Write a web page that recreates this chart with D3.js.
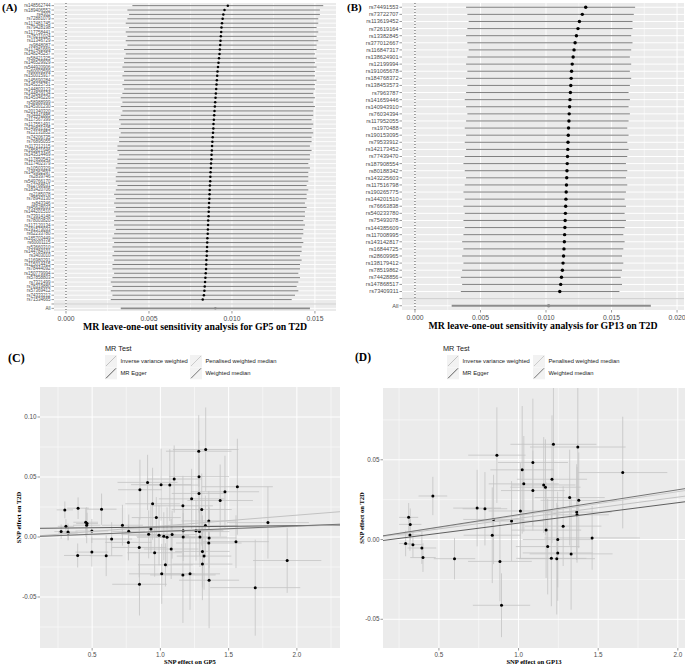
<!DOCTYPE html>
<html><head><meta charset="utf-8">
<script src="https://cdn.jsdelivr.net/npm/d3@7"></script>
<style>body{margin:0;background:#fff}</style>
</head><body>
<script>
// ---------- Panel A: leave-one-out GP5 ----------
const snpA = ["rs148562744","rs189406552","rs4302","rs72881079","rs117481745","rs79428198","rs117758441","rs78211024","rs11346729","rs9848087",
"rs117481669","rs148245257","rs58421325","rs146529929","rs544920906","rs60003599","rs150015917","rs145690284","rs145225751","rs144803123",
"rs144829134","rs145346226","rs58988999","rs145301230","rs201340320","rs34441885","rs117567399","rs117551491","rs149831325","rs12131852",
"rs74206735","rs76895055","rs117212115","rs185821946","rs143514469","rs117850543","rs117402379","rs10503329","rs146362597","rs2839746",
"rs549766170","rs12768631","rs183420706","rs2185078","rs78943130","rs843346","rs45628033","rs144201510","rs73914148","rs78003820",
"rs117120134","rs191573033","rs62233780","rs185703449","rs60001115","rs53660310","rs144784101","rs3403010","rs116980291","rs115014415",
"rs78444092","rs150779994","rs57858803","rs7321499","rs78319880","rs57369412","rs74333212","rs71534665"];
const bA = [0.00975,0.00955,0.00948,0.00944,0.00940,0.00937,0.00935,0.00933,0.00931,0.00929,
0.00927,0.00925,0.00922,0.00919,0.00916,0.00913,0.00911,0.00909,0.00907,0.00905,
0.00903,0.00901,0.00899,0.00897,0.00895,0.00893,0.00891,0.00889,0.00888,0.00886,
0.00884,0.00882,0.00880,0.00879,0.00877,0.00876,0.00874,0.00873,0.00871,0.00870,
0.00869,0.00867,0.00866,0.00865,0.00864,0.00862,0.00861,0.00860,0.00859,0.00857,
0.00856,0.00855,0.00854,0.00852,0.00851,0.00850,0.00849,0.00848,0.00846,0.00845,
0.00844,0.00842,0.00840,0.00838,0.00836,0.00834,0.00831,0.00824];
const loA = [0.0040,0.0037,0.0038,0.0037,0.0036,0.0038,0.0036,0.0037,0.0036,0.0037,
0.0035,0.0036,0.0035,0.0035,0.0034,0.0035,0.0034,0.0035,0.0034,0.0035,
0.0034,0.0033,0.0034,0.0033,0.0034,0.0033,0.0032,0.0033,0.0032,0.0033,
0.0032,0.0032,0.0031,0.0031,0.0032,0.0031,0.0031,0.0030,0.0031,0.0030,
0.0030,0.0031,0.0030,0.0029,0.0030,0.0029,0.0030,0.0029,0.0030,0.0029,
0.0029,0.0030,0.0029,0.0028,0.0029,0.0028,0.0029,0.0028,0.0029,0.0028,
0.0028,0.0029,0.0028,0.0027,0.0028,0.0027,0.0028,0.0027];
const hiA = [0.0155,0.0153,0.0153,0.0152,0.0152,0.0151,0.0152,0.0151,0.0152,0.0151,
0.0151,0.0150,0.0151,0.0150,0.0151,0.0150,0.0150,0.0151,0.0150,0.0150,
0.0149,0.0150,0.0149,0.0150,0.0149,0.0149,0.0148,0.0149,0.0148,0.0149,
0.0148,0.0148,0.0147,0.0148,0.0147,0.0147,0.0146,0.0147,0.0146,0.0146,
0.0146,0.0145,0.0146,0.0145,0.0145,0.0144,0.0145,0.0144,0.0144,0.0143,
0.0144,0.0143,0.0143,0.0142,0.0143,0.0142,0.0142,0.0141,0.0142,0.0141,
0.0141,0.0140,0.0141,0.0140,0.0139,0.0140,0.0138,0.0136];
const allA = {b:0.0090, lo:0.0033, hi:0.0147};
const ticksA = [0.000,0.005,0.010,0.015];
const tickLabA = ["0.000","0.005","0.010","0.015"];

// ---------- Panel B: leave-one-out GP13 ----------
const snpB = ["rs74491553","rs73722707","rs113619452","rs72619164","rs13382845","rs377012667","rs116847317","rs138624901","rs12199994","rs191065678",
"rs184768372","rs138453573","rs7963787","rs141659446","rs140943910","rs76034394","rs117952055","rs1970488","rs190153095","rs79533912",
"rs142173452","rs77439470","rs187908554","rs80188342","rs143225603","rs117516798","rs190265775","rs144201510","rs76663838","rs540233780",
"rs75493078","rs144385609","rs117008995","rs143142817","rs16844725","rs28609965","rs138179412","rs78519862","rs74428856","rs147868517","rs73409311"];
const bB = [0.01303,0.01277,0.01255,0.01244,0.01232,0.01222,0.01214,0.01207,0.01200,0.01195,
0.01192,0.01189,0.01186,0.01183,0.01180,0.01177,0.01175,0.01172,0.01170,0.01168,
0.01166,0.01164,0.01162,0.01160,0.01158,0.01156,0.01154,0.01152,0.01150,0.01148,
0.01146,0.01144,0.01142,0.01140,0.01137,0.01134,0.01130,0.01125,0.01118,0.01112,0.01105];
const loB = [0.0039,0.0040,0.0041,0.0040,0.0039,0.0040,0.0041,0.0040,0.0039,0.0040,
0.0039,0.0040,0.0039,0.0038,0.0039,0.0040,0.0039,0.0038,0.0039,0.0038,
0.0039,0.0038,0.0037,0.0038,0.0039,0.0038,0.0037,0.0038,0.0037,0.0038,
0.0037,0.0038,0.0037,0.0036,0.0037,0.0036,0.0037,0.0036,0.0035,0.0036,0.0035];
const hiB = [0.0168,0.0167,0.0166,0.0166,0.0165,0.0166,0.0165,0.0164,0.0165,0.0164,
0.0165,0.0164,0.0163,0.0164,0.0163,0.0164,0.0163,0.0162,0.0163,0.0162,
0.0163,0.0162,0.0161,0.0162,0.0161,0.0162,0.0161,0.0160,0.0161,0.0160,
0.0161,0.0160,0.0159,0.0160,0.0159,0.0158,0.0159,0.0158,0.0157,0.0158,0.0156];
const allB = {b:0.0102, lo:0.0028, hi:0.0180};
const ticksB = [0.000,0.005,0.010,0.015,0.020];
const tickLabB = ["0.000","0.005","0.010","0.015","0.020"];

// ---------- Panel C: scatter GP5 ----------
const xC = [0.273,0.300,0.308,0.323,0.325,0.397,0.394,0.453,0.463,0.460,
0.498,0.498,0.569,0.603,0.643,0.722,0.768,0.766,0.845,0.850,
0.847,0.906,0.914,0.931,0.943,0.958,0.970,0.990,1.005,1.010,
1.025,1.037,1.049,1.069,1.079,1.086,1.101,1.165,1.167,1.167,
1.165,1.217,1.229,1.261,1.281,1.283,1.283,1.286,1.290,1.303,
1.308,1.308,1.320,1.330,1.332,1.355,1.357,1.355,1.357,1.438,
1.473,1.554,1.564,1.695,1.788,1.929];
const yC = [0.0045,0.0226,0.0089,0.0042,0.0034,0.0240,-0.0154,0.0123,0.0112,0.0098,
-0.0126,0.0050,0.0232,-0.0156,-0.0017,0.0098,0.0047,-0.0045,-0.0087,0.0394,
-0.0394,0.0455,0.0022,0.0067,0.0277,-0.0131,0.0162,0.0014,0.0436,-0.0307,
0.0006,-0.0232,-0.0003,0.0433,-0.0100,0.0020,0.0483,0.0260,0.0053,0.0000,
-0.0316,-0.0307,0.0318,0.0053,0.0715,0.0503,0.0363,0.0045,0.0000,0.0229,
-0.0120,-0.0226,-0.0159,0.0095,0.0729,0.0134,-0.0008,-0.0050,-0.0360,0.0304,
0.0377,-0.0039,0.0419,-0.0422,0.0120,-0.0196];
const sxC = [0.05,0.06,0.06,0.07,0.07,0.08,0.10,0.09,0.08,0.10,
0.12,0.12,0.11,0.12,0.15,0.15,0.12,0.17,0.20,0.16,
0.20,0.22,0.20,0.22,0.20,0.20,0.18,0.22,0.22,0.24,
0.20,0.20,0.22,0.22,0.20,0.18,0.20,0.22,0.22,0.20,
0.24,0.22,0.24,0.20,0.24,0.22,0.20,0.22,0.20,0.22,
0.20,0.22,0.20,0.24,0.24,0.20,0.20,0.24,0.22,0.24,
0.25,0.24,0.26,0.33,0.30,0.25];
const syC = [0.006,0.007,0.006,0.007,0.006,0.009,0.010,0.012,0.009,0.015,
0.012,0.010,0.013,0.017,0.014,0.017,0.014,0.015,0.025,0.025,
0.026,0.023,0.020,0.020,0.030,0.020,0.017,0.025,0.030,0.025,
0.020,0.018,0.025,0.030,0.025,0.020,0.028,0.025,0.022,0.020,
0.040,0.030,0.025,0.025,0.030,0.030,0.030,0.020,0.025,0.030,
0.030,0.030,0.028,0.025,0.035,0.025,0.025,0.030,0.040,0.030,
0.030,0.022,0.040,0.040,0.030,0.027];
const ticksCx = [0.5,1.0,1.5,2.0], labCx = ["0.5","1.0","1.5","2.0"];
const ticksCy = [0.10,0.05,0.00,-0.05], labCy = ["0.10","0.05","0.00","-0.05"];

// ---------- Panel D: scatter GP13 ----------
const xD = [0.291,0.310,0.320,0.318,0.337,0.393,0.400,0.462,0.598,0.740,
0.789,0.835,0.843,0.864,0.883,0.893,0.956,1.012,1.023,1.033,
1.090,1.090,1.158,1.169,1.173,1.183,1.206,1.210,1.219,1.240,
1.246,1.246,1.280,1.321,1.330,1.365,1.367,1.372,1.378,1.462,1.654];
const yD = [-0.0025,0.0139,0.0095,0.0029,-0.0032,-0.0053,-0.0113,0.0273,-0.0120,0.0197,
0.0193,0.0027,0.0126,0.0529,-0.0137,-0.0412,0.0116,0.0179,0.0437,0.0349,
0.0483,0.0307,0.0342,0.0328,0.0059,-0.0044,-0.0118,0.0378,0.0597,-0.0120,
0.0000,-0.0084,0.0084,0.0263,-0.0090,0.0172,0.0155,0.0580,0.0246,0.0010,0.0420];
const sxD = [0.04,0.06,0.07,0.08,0.06,0.09,0.08,0.09,0.13,0.15,
0.14,0.18,0.19,0.18,0.20,0.18,0.20,0.20,0.20,0.22,
0.22,0.20,0.20,0.22,0.22,0.20,0.22,0.22,0.27,0.24,
0.22,0.22,0.24,0.22,0.26,0.22,0.20,0.30,0.24,0.30,0.28];
const syD = [0.008,0.009,0.010,0.010,0.008,0.010,0.009,0.012,0.013,0.024,
0.023,0.030,0.028,0.030,0.025,0.020,0.025,0.030,0.040,0.030,
0.040,0.025,0.030,0.030,0.030,0.030,0.030,0.040,0.040,0.035,
0.030,0.030,0.025,0.030,0.035,0.030,0.030,0.040,0.030,0.020,0.035];
const ticksDx = [0.5,1.0,1.5,2.0], labDx = ["0.5","1.0","1.5","2.0"];
const ticksDy = [0.05,0.00,-0.05], labDy = ["0.05","0.00","-0.05"];

// ---------- MR methods ----------
const methods = ["Inverse variance weighted","MR Egger","Penalised weighted median","Weighted median"];
const methodColors = ["#c2c2c2","#5e5e5e","#cbcbcb","#747474"];
const slopeC = [0.0091,0.0012,0.0044,0.0046];
const interceptC = [0,0.0071,0,0];
const slopeD = [0.0133,0.0128,0.0150,0.0156];
const interceptD = [0,-0.0025,0,0];

// ================= drawing =================
const W = 685, H = 665;
const SANS = "'Liberation Sans', Arial, Helvetica, sans-serif";
const SERIF = "'Liberation Serif', 'Times New Roman', Times, serif";
const BG = "#ebebeb", TXT = "#4d4d4d", TICK = "#333333";
const svg = d3.select("body").append("svg").attr("width", W).attr("height", H);
svg.append("rect").attr("width", W).attr("height", H).attr("fill", "#fff");

function minorOf(ticks, dom) {
  const st = ticks[1] - ticks[0], out = [];
  for (let i = -2; i <= ticks.length; i++) {
    const v = ticks[0] + st * (i + 0.5);
    if (v > Math.min(...dom) && v < Math.max(...dom)) out.push(v);
  }
  return out;
}

function forest(o) {
  const g = svg.append("g");
  const x = d3.scaleLinear().domain(o.xdom).range([o.x0, o.x1]);
  const cats = [...o.snps, "", "All"];
  const y = d3.scalePoint().domain(cats).range([o.y0, o.y1]).padding(0.6);
  g.append("rect").attr("x", o.x0).attr("y", o.y0).attr("width", o.x1 - o.x0).attr("height", o.y1 - o.y0).attr("fill", BG);
  g.selectAll(".mn").data(minorOf(o.ticks, o.xdom)).join("line")
    .attr("x1", d => x(d)).attr("x2", d => x(d)).attr("y1", o.y0).attr("y2", o.y1)
    .attr("stroke", "#fff").attr("stroke-width", 0.5);
  g.selectAll(".mj").data(o.ticks).join("line")
    .attr("x1", d => x(d)).attr("x2", d => x(d)).attr("y1", o.y0).attr("y2", o.y1)
    .attr("stroke", "#fff").attr("stroke-width", 1);
  g.selectAll(".hy").data(cats).join("line")
    .attr("x1", o.x0).attr("x2", o.x1).attr("y1", d => y(d)).attr("y2", d => y(d))
    .attr("stroke", "#fff").attr("stroke-width", o.gridW);
  g.append("line").attr("x1", x(0)).attr("x2", x(0)).attr("y1", o.y0).attr("y2", o.y1)
    .attr("stroke", "#222").attr("stroke-width", 0.8).attr("stroke-dasharray", "1,2");
  const rows = o.snps.map((s, i) => ({s, b: o.b[i], lo: o.lo[i], hi: o.hi[i]}));
  g.selectAll(".eb").data(rows).join("line")
    .attr("x1", d => x(d.lo)).attr("x2", d => x(d.hi)).attr("y1", d => y(d.s)).attr("y2", d => y(d.s))
    .attr("stroke", "#3a3a3a").attr("stroke-width", 0.65);
  g.append("line").attr("x1", o.x0).attr("x2", o.x1).attr("y1", y("")).attr("y2", y(""))
    .attr("stroke", "#bebebe").attr("stroke-width", 0.8);
  g.append("line").attr("x1", x(o.all.lo)).attr("x2", x(o.all.hi)).attr("y1", y("All")).attr("y2", y("All"))
    .attr("stroke", "#8c8c8c").attr("stroke-width", 1.9);
  g.selectAll(".pt").data(rows).join("circle")
    .attr("cx", d => x(d.b)).attr("cy", d => y(d.s)).attr("r", o.r).attr("fill", "#000");
  g.append("circle").attr("cx", x(o.all.b)).attr("cy", y("All")).attr("r", o.r).attr("fill", "#8c8c8c");
  g.selectAll(".yt").data(cats).join("line")
    .attr("x1", o.x0 - 2.5).attr("x2", o.x0).attr("y1", d => y(d)).attr("y2", d => y(d))
    .attr("stroke", TICK).attr("stroke-width", 0.5);
  g.selectAll(".yl").data(cats).join("text")
    .attr("x", o.x0 - 3.5).attr("y", d => y(d)).attr("dy", "0.35em")
    .attr("text-anchor", "end").attr("font-family", SANS).attr("font-size", o.labSize).attr("fill", TXT)
    .text(d => d);
  g.selectAll(".xt").data(o.ticks).join("line")
    .attr("x1", d => x(d)).attr("x2", d => x(d)).attr("y1", o.y1).attr("y2", o.y1 + 2.5)
    .attr("stroke", TICK).attr("stroke-width", 0.5);
  g.selectAll(".xl").data(o.ticks).join("text")
    .attr("x", d => x(d)).attr("y", o.y1 + 9.5).attr("text-anchor", "middle")
    .attr("font-family", SANS).attr("font-size", 6.8).attr("fill", TXT)
    .text((d, i) => o.tickLab[i]);
  g.append("text").attr("x", (o.x0 + o.x1) / 2).attr("y", o.y1 + 19)
    .attr("text-anchor", "middle").attr("font-family", SERIF).attr("font-weight", "bold")
    .attr("font-size", 9.8).attr("fill", "#000").text(o.title);
}

function scatter(o) {
  const g = svg.append("g");
  const x = d3.scaleLinear().domain(o.xdom).range([o.x0, o.x1]);
  const y = d3.scaleLinear().domain(o.ydom).range([o.y1, o.y0]);
  g.append("rect").attr("x", o.x0).attr("y", o.y0).attr("width", o.x1 - o.x0).attr("height", o.y1 - o.y0).attr("fill", BG);
  g.selectAll(".mnx").data(minorOf(o.tx, o.xdom)).join("line")
    .attr("x1", d => x(d)).attr("x2", d => x(d)).attr("y1", o.y0).attr("y2", o.y1)
    .attr("stroke", "#fff").attr("stroke-width", 0.5);
  g.selectAll(".mny").data(minorOf(o.ty, o.ydom)).join("line")
    .attr("y1", d => y(d)).attr("y2", d => y(d)).attr("x1", o.x0).attr("x2", o.x1)
    .attr("stroke", "#fff").attr("stroke-width", 0.5);
  g.selectAll(".mjx").data(o.tx).join("line")
    .attr("x1", d => x(d)).attr("x2", d => x(d)).attr("y1", o.y0).attr("y2", o.y1)
    .attr("stroke", "#fff").attr("stroke-width", 1);
  g.selectAll(".mjy").data(o.ty).join("line")
    .attr("y1", d => y(d)).attr("y2", d => y(d)).attr("x1", o.x0).attr("x2", o.x1)
    .attr("stroke", "#fff").attr("stroke-width", 1);
  const clipId = "clip" + o.id;
  svg.append("clipPath").attr("id", clipId).append("rect")
    .attr("x", o.x0).attr("y", o.y0).attr("width", o.x1 - o.x0).attr("height", o.y1 - o.y0);
  const pg = g.append("g").attr("clip-path", `url(#${clipId})`);
  const pts = o.xs.map((v, i) => ({x: v, y: o.ys[i], sx: o.sx[i], sy: o.sy[i]}));
  pg.selectAll(".ev").data(pts).join("line")
    .attr("x1", d => x(d.x)).attr("x2", d => x(d.x)).attr("y1", d => y(d.y - d.sy)).attr("y2", d => y(d.y + d.sy))
    .attr("stroke", "#c4c4c4").attr("stroke-width", 0.8);
  pg.selectAll(".eh").data(pts).join("line")
    .attr("y1", d => y(d.y)).attr("y2", d => y(d.y)).attr("x1", d => x(d.x - d.sx)).attr("x2", d => x(d.x + d.sx))
    .attr("stroke", "#c4c4c4").attr("stroke-width", 0.8);
  pg.selectAll(".pt").data(pts).join("circle")
    .attr("cx", d => x(d.x)).attr("cy", d => y(d.y)).attr("r", 1.5).attr("fill", "#000");
  const ab = methods.map((m, i) => ({m, c: methodColors[i], s: o.slope[i], a: o.intercept[i]}));
  pg.selectAll(".ab").data(ab).join("line")
    .attr("x1", x(o.xdom[0])).attr("x2", x(o.xdom[1]))
    .attr("y1", d => y(d.a + d.s * o.xdom[0])).attr("y2", d => y(d.a + d.s * o.xdom[1]))
    .attr("stroke", d => d.c).attr("stroke-width", 1);
  g.selectAll(".xt").data(o.tx).join("line")
    .attr("x1", d => x(d)).attr("x2", d => x(d)).attr("y1", o.y1).attr("y2", o.y1 + 2.5)
    .attr("stroke", TICK).attr("stroke-width", 0.5);
  g.selectAll(".xl").data(o.tx).join("text")
    .attr("x", d => x(d)).attr("y", o.y1 + 8.5).attr("text-anchor", "middle")
    .attr("font-family", SANS).attr("font-size", 6.3).attr("fill", TXT).text((d, i) => o.lx[i]);
  g.selectAll(".yt").data(o.ty).join("line")
    .attr("y1", d => y(d)).attr("y2", d => y(d)).attr("x1", o.x0 - 2.5).attr("x2", o.x0)
    .attr("stroke", TICK).attr("stroke-width", 0.5);
  g.selectAll(".yl").data(o.ty).join("text")
    .attr("x", o.x0 - 3.5).attr("y", d => y(d)).attr("dy", "0.35em").attr("text-anchor", "end")
    .attr("font-family", SANS).attr("font-size", 6.3).attr("fill", TXT).text((d, i) => o.ly[i]);
  g.append("text").attr("x", (o.x0 + o.x1) / 2).attr("y", o.y1 + 16)
    .attr("text-anchor", "middle").attr("font-family", SERIF).attr("font-weight", "bold")
    .attr("font-size", 6.6).text(o.xtitle);
  g.append("text").attr("transform", `translate(${o.ytx},${(o.y0 + o.y1) / 2}) rotate(-90)`)
    .attr("text-anchor", "middle").attr("font-family", SERIF).attr("font-weight", "bold")
    .attr("font-size", 6.6).text(o.ytitle);
  const lg = svg.append("g");
  lg.append("text").attr("x", o.lgx).attr("y", o.lgy).attr("font-family", SANS).attr("font-size", 7.3)
    .attr("fill", "#222").text("MR Test");
  const cols = [o.lgx + o.k1, o.lgx + o.k2];
  ab.forEach((d, i) => {
    const kx = cols[Math.floor(i / 2)], ky = o.lgy + 4 + (i % 2) * 12.3;
    lg.append("rect").attr("x", kx).attr("y", ky).attr("width", 12).attr("height", 12).attr("fill", "#f2f2f2");
    lg.append("line").attr("x1", kx + 1).attr("y1", ky + 11).attr("x2", kx + 11).attr("y2", ky + 1)
      .attr("stroke", d.c).attr("stroke-width", 1);
    lg.append("text").attr("x", kx + 15.5).attr("y", ky + 6).attr("dy", "0.35em")
      .attr("font-family", SANS).attr("font-size", 5.8).attr("fill", "#222").text(d.m);
  });
}

forest({snps: snpA, b: bA, lo: loA, hi: hiA, all: allA, ticks: ticksA, tickLab: tickLabA,
  xdom: [-0.000723, 0.01627], x0: 54, x1: 336, y0: 3, y1: 311, r: 1.25, labSize: 4.5, gridW: 0.9,
  title: "MR leave-one-out sensitivity analysis for GP5 on T2D"});
forest({snps: snpB, b: bB, lo: loB, hi: hiB, all: allB, ticks: ticksB, tickLab: tickLabB,
  xdom: [-0.00099, 0.02053], x0: 402, x1: 684, y0: 3, y1: 310, r: 1.7, labSize: 5.6, gridW: 1,
  title: "MR leave-one-out sensitivity analysis for GP13 on T2D"});

scatter({id: "C", xs: xC, ys: yC, sx: sxC, sy: syC, tx: ticksCx, lx: labCx, ty: ticksCy, ly: labCy,
  xdom: [0.118, 2.316], ydom: [-0.0925, 0.125], x0: 40, x1: 340, y0: 387, y1: 648,
  slope: slopeC, intercept: interceptC, xtitle: "SNP effect on GP5", ytitle: "SNP effect on T2D", ytx: 21,
  lgx: 105, lgy: 351, k1: 0, k2: 85});
scatter({id: "D", xs: xD, ys: yD, sx: sxD, sy: syD, tx: ticksDx, lx: labDx, ty: ticksDy, ly: labDy,
  xdom: [0.149, 2.045], ydom: [-0.068, 0.095], x0: 383, x1: 685, y0: 388, y1: 648,
  slope: slopeD, intercept: interceptD, xtitle: "SNP effect on GP13", ytitle: "SNP effect on T2D", ytx: 364,
  lgx: 443, lgy: 351, k1: 4, k2: 90});

[["(A)", 2, 11, 11], ["(B)", 347, 11, 11], ["(C)", 8, 362, 12], ["(D)", 355, 361, 11.5]].forEach(t => {
  svg.append("text").attr("x", t[1]).attr("y", t[2]).attr("font-family", SERIF).attr("font-weight", "bold")
    .attr("font-size", t[3]).attr("fill", "#000").text(t[0]);
});
</script>
</body></html>
